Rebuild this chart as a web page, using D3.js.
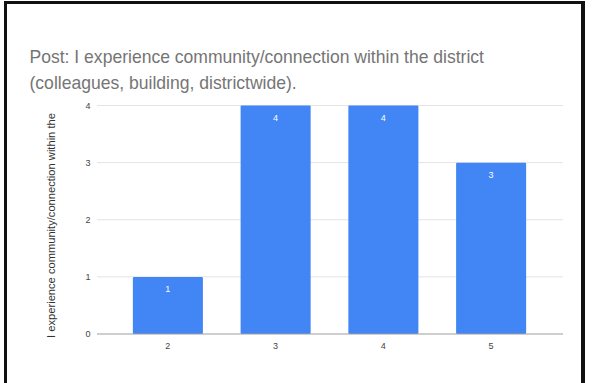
<!DOCTYPE html>
<html><head><meta charset="utf-8">
<script src="https://cdn.jsdelivr.net/npm/d3@7"></script>
<style>html,body{margin:0;padding:0;background:#fff;}svg{display:block;}</style>
</head><body>
<script>
const categories = ["2", "3", "4", "5"];
const values = [1, 4, 4, 3];
const yTicks = [0, 1, 2, 3, 4];
const titleLines = ["Post: I experience community/connection within the district", "(colleagues, building, districtwide)."];
const yAxisTitle = "I experience community/connection within the";

const W = 592, H = 383;
const svg = d3.select("body").append("svg").attr("width", W).attr("height", H);
const font = "'Liberation Sans', Arial, sans-serif";

// frame
svg.append("rect").attr("x", 4).attr("y", 1).attr("width", 3).attr("height", H).attr("fill", "#111");
svg.append("rect").attr("x", 4).attr("y", 1).attr("width", 581).attr("height", 3).attr("fill", "#111");
svg.append("rect").attr("x", 581).attr("y", 1).attr("width", 4).attr("height", H).attr("fill", "#111");

// title
const tg = svg.append("g");
titleLines.forEach((t, i) => {
  tg.append("text").attr("x", 29.5).attr("y", 63 + i * 26)
    .attr("font-family", font).attr("font-size", 16).attr("fill", "#757575").text(t);
});
const first = tg.select("text").node();
const len = first.getComputedTextLength();
const fs = 16 * 455 / len;
tg.selectAll("text").attr("font-size", fs);

const y = d3.scaleLinear().domain([0, 4]).range([334, 105.5]);
const x = d3.scaleBand().domain(categories).range([114, 545]).paddingInner(0.35).paddingOuter(0.175);

// gridlines
const gridX0 = 97, gridX1 = 563;
svg.append("g").selectAll("line").data(yTicks.filter(d => d > 0)).join("line")
  .attr("x1", gridX0).attr("x2", gridX1)
  .attr("y1", d => y(d)).attr("y2", d => y(d))
  .attr("stroke", "#e3e3e3").attr("stroke-width", 1);

// y tick labels
svg.append("g").selectAll("text").data(yTicks).join("text")
  .attr("x", 88).attr("y", d => y(d)).attr("dy", "0.35em")
  .attr("text-anchor", "middle").attr("font-family", font).attr("font-size", 9)
  .attr("fill", "#444").text(d => d);

// bars
svg.append("g").selectAll("rect").data(values).join("rect")
  .attr("x", (d, i) => x(categories[i])).attr("width", x.bandwidth())
  .attr("y", d => y(d)).attr("height", d => y(0) - y(d))
  .attr("fill", "#4285F4").attr("rx", 1);

// bar labels
svg.append("g").selectAll("text").data(values).join("text")
  .attr("x", (d, i) => x(categories[i]) + x.bandwidth() / 2)
  .attr("y", d => y(d) + 12).attr("dy", "0.35em")
  .attr("text-anchor", "middle").attr("font-family", font).attr("font-size", 9)
  .attr("fill", "#fff").text(d => d);

// baseline
svg.append("line").attr("x1", gridX0).attr("x2", gridX1).attr("y1", y(0)).attr("y2", y(0))
  .attr("stroke", "#9e9e9e").attr("stroke-width", 1.2);

// x tick labels
svg.append("g").selectAll("text").data(categories).join("text")
  .attr("x", d => x(d) + x.bandwidth() / 2).attr("y", 346).attr("dy", "0.35em")
  .attr("text-anchor", "middle").attr("font-family", font).attr("font-size", 9)
  .attr("fill", "#444").text(d => d);

// y axis title
const yt = svg.append("text").attr("transform", "translate(51,225.5) rotate(-90)")
  .attr("text-anchor", "middle").attr("dy", "0.35em").attr("font-family", font).attr("font-size", 10)
  .attr("fill", "#333").text(yAxisTitle);
const yl = yt.node().getComputedTextLength();
yt.attr("font-size", 10 * 225 / yl);
</script>
</body></html>
